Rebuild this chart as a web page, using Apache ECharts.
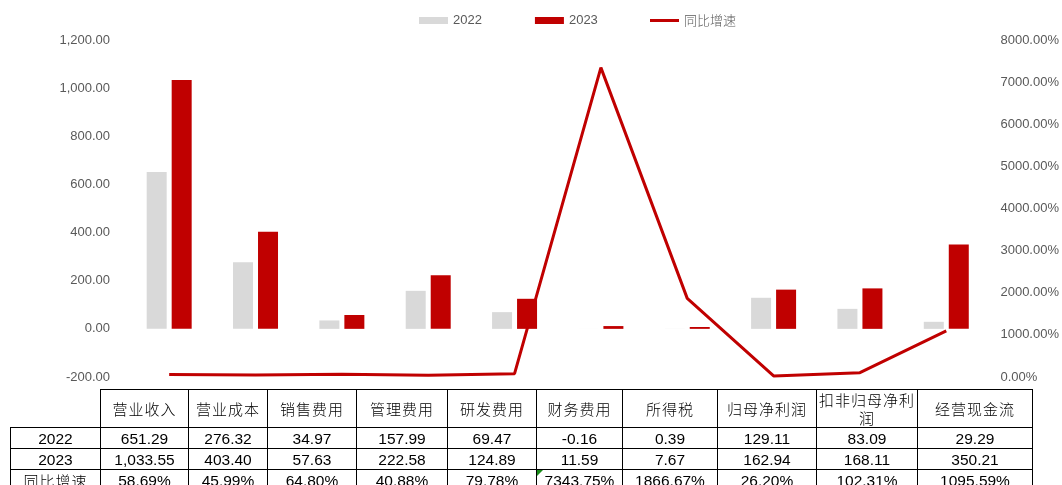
<!DOCTYPE html>
<html>
<head>
<meta charset="utf-8">
<script src="https://cdn.jsdelivr.net/npm/echarts@6/dist/echarts.min.js"></script>
<style>
  html, body { margin: 0; padding: 0; background: #fff; overflow: hidden; }
  #wrap { position: relative; width: 1062px; height: 485px; overflow: hidden; }
  #chart { position: absolute; left: 0; top: 0; width: 1062px; height: 485px; }
  #tbl { position: absolute; left: 10px; top: 389px; border-collapse: collapse; table-layout: fixed; }
  #tbl td { border: 1px solid #000; padding: 0; text-align: center; vertical-align: middle;
            font-family: "Liberation Sans", Arial, sans-serif; font-size: 15.5px; color: #000;
            height: 20px; line-height: 19px; white-space: nowrap; }
  #tbl tr.hdr td { height: 37px; font-family: "Noto Sans CJK SC", sans-serif; font-size: 15px;
            letter-spacing: 1px; line-height: 18px; white-space: normal; font-weight: 300; }
  #tbl td.lbl-cn { font-family: "Noto Sans CJK SC", sans-serif; font-size: 15px; letter-spacing: 1px; font-weight: 300; }
  #tbl td.blank { border-top: none; border-left: none; }
  #tbl td.flag { position: relative; }
  #tbl td.flag::before { content: ""; position: absolute; left: 0; top: 0; width: 0; height: 0;
            border-top: 6px solid #1a8c1a; border-right: 6px solid transparent; }
</style>
</head>
<body>
<div id="wrap">
  <div id="chart"></div>
  <table id="tbl"></table>
</div>
<script>
const categories = ['营业收入','营业成本','销售费用','管理费用','研发费用','财务费用','所得税','归母净利润','扣非归母净利润','经营现金流'];
const values2022 = [651.29, 276.32, 34.97, 157.99, 69.47, -0.16, 0.39, 129.11, 83.09, 29.29];
const values2023 = [1033.55, 403.40, 57.63, 222.58, 124.89, 11.59, 7.67, 162.94, 168.11, 350.21];
const yoyGrowth = [58.69, 45.99, 64.80, 40.88, 79.78, 7343.75, 1866.67, 26.20, 102.31, 1095.59];
const seriesNames = ['2022', '2023', '同比增速'];
const colWidths = [90, 88, 79, 89, 91, 89, 86, 95, 99, 101, 115];

const fmtNum = v => v.toLocaleString('en-US', {minimumFractionDigits: 2, maximumFractionDigits: 2});
const fmtPct = v => v.toFixed(2) + '%';

// Build table
(function buildTable() {
  const t = document.getElementById('tbl');
  let w = colWidths.reduce((a, b) => a + b, 0);
  t.style.width = w + 'px';
  let html = '<colgroup>' + colWidths.map(c => '<col style="width:' + c + 'px">').join('') + '</colgroup>';
  html += '<tr class="hdr"><td class="blank"></td>' + categories.map(c => '<td>' + c + '</td>').join('') + '</tr>';
  html += '<tr><td>' + seriesNames[0] + '</td>' + values2022.map(v => '<td>' + fmtNum(v) + '</td>').join('') + '</tr>';
  html += '<tr><td>' + seriesNames[1] + '</td>' + values2023.map(v => '<td>' + fmtNum(v) + '</td>').join('') + '</tr>';
  html += '<tr><td class="lbl-cn">' + seriesNames[2] + '</td>' + yoyGrowth.map((v, i) => '<td' + (i === 5 ? ' class="flag"' : '') + '>' + fmtPct(v) + '</td>').join('') + '</tr>';
  t.innerHTML = html;
})();

const chart = echarts.init(document.getElementById('chart'));
const labelStyle = { color: '#595959', fontSize: 13, fontFamily: 'Liberation Sans, Arial, sans-serif' };
chart.setOption({
  animation: false,
  legend: [
    {
      left: 414, top: 9,
      itemWidth: 29, itemHeight: 7, itemGap: 53, icon: 'rect',
      textStyle: { color: '#595959', fontSize: 13, fontFamily: 'Liberation Sans, Arial, sans-serif' },
      data: [ { name: seriesNames[0] }, { name: seriesNames[1] } ]
    },
    {
      left: 645, top: 9,
      itemWidth: 29, itemHeight: 3, icon: 'rect',
      textStyle: { color: '#595959', fontSize: 13, fontFamily: 'Noto Sans CJK SC, sans-serif', fontWeight: 300 },
      data: [ { name: seriesNames[2] } ]
    }
  ],
  grid: { left: 126, right: 71, top: 40, bottom: 108 },
  xAxis: {
    type: 'category', data: categories,
    axisLine: { show: false }, axisTick: { show: false }, axisLabel: { show: false }, splitLine: { show: false }
  },
  yAxis: [
    {
      type: 'value', min: -200, max: 1200, interval: 200,
      axisLine: { show: false }, axisTick: { show: false }, splitLine: { show: false },
      axisLabel: Object.assign({ margin: 16, formatter: v => fmtNum(v) }, labelStyle)
    },
    {
      type: 'value', min: 0, max: 8000, interval: 1000,
      axisLine: { show: false }, axisTick: { show: false }, splitLine: { show: false },
      axisLabel: Object.assign({ margin: 11, formatter: v => fmtPct(v) }, labelStyle)
    }
  ],
  series: [
    { name: seriesNames[0], type: 'bar', data: values2022, barWidth: 20, barGap: '25%',
      itemStyle: { color: '#D9D9D9' } },
    { name: seriesNames[1], type: 'bar', data: values2023, barWidth: 20, barGap: '25%',
      itemStyle: { color: '#C00000' } },
    { name: seriesNames[2], type: 'line', yAxisIndex: 1, data: yoyGrowth, symbol: 'none',
      lineStyle: { color: '#C00000', width: 3 }, itemStyle: { color: '#C00000' } }
  ]
});
</script>
</body>
</html>
